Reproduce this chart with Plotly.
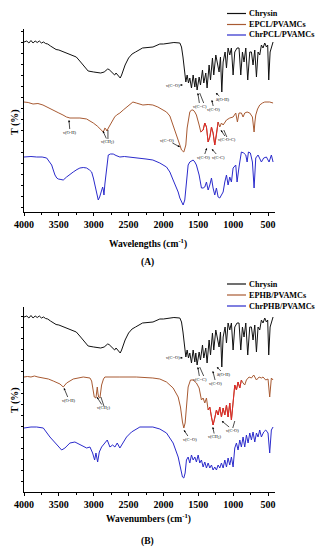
import plotly.graph_objects as go

# ---------------- data (wavenumber cm-1, offset transmittance, arbitrary units) ----------------
chrysin_wn = [4000, 3960, 3930, 3900, 3870, 3840, 3810, 3780, 3750, 3720, 3690, 3660, 3620, 3580,
              3540, 3500, 3450, 3400, 3330, 3280, 3250, 3200, 3150, 3100, 3080, 3000, 2950, 2900,
              2850, 2800, 2780, 2760, 2700, 2680, 2660, 2640, 2620, 2600, 2580, 2550, 2500, 2450,
              2400, 2300, 2150, 2052, 2000, 1908, 1850, 1765, 1741, 1720, 1708, 1679, 1660, 1641,
              1622, 1598, 1574, 1550, 1536, 1517, 1488, 1469, 1440, 1421, 1393, 1374, 1345, 1325,
              1297, 1278, 1249, 1230, 1202, 1182, 1163, 1144, 1116, 1096, 1073, 1049, 1025, 1001,
              977, 944, 916, 891, 867, 844, 819, 791, 762, 738, 715, 690, 666, 643, 619, 595, 572,
              547, 523, 505, 490, 470, 452, 428]
chrysin_t = [170, 171, 169, 171.5, 169, 171, 169.5, 171, 169, 170, 168.5, 168, 166, 164,
             162.5, 162, 160.5, 159, 157, 156, 155, 151, 147, 142, 141, 140, 139.5, 139,
             140, 143, 142.5, 141, 137, 139, 137, 135, 134, 137, 141, 147, 154, 158,
             160, 164, 165, 168, 168, 169, 169.5, 169, 165, 155, 147, 130, 137, 129,
             134, 124, 137, 125, 134, 122, 135, 127, 142, 129, 139, 124, 147, 132,
             154, 137, 157, 150, 140, 155, 120, 150, 160, 144, 164, 157, 164, 137,
             160, 164, 164, 137, 160, 150, 164, 132, 160, 160, 147, 162, 135, 160, 157, 167, 164,
             169, 165, 167, 132, 160, 165, 170]

epcl_wn = [4000, 3940, 3870, 3800, 3728, 3650, 3585, 3500, 3441, 3390, 3341, 3250, 3198, 3102,
           3050, 3006, 2950, 2911, 2880, 2863, 2850, 2840, 2825, 2811, 2790, 2744, 2700, 2672,
           2625, 2577, 2529, 2480, 2438, 2390, 2340, 2295, 2220, 2152, 2080, 2052, 1956, 1908,
           1861, 1813, 1789, 1765, 1741, 1727, 1708, 1695, 1679, 1660, 1646, 1622, 1598, 1574,
           1550, 1527, 1488, 1464, 1431, 1407, 1383, 1359, 1335, 1311, 1288, 1264, 1240, 1216,
           1192, 1168, 1144, 1120, 1096, 1049, 1001, 963, 939, 916, 882, 858, 834, 800, 762,
           724, 712, 700, 688, 676, 650, 619, 580, 547, 476, 428]
epcl_t = [110, 109.5, 108, 108.5, 107, 104, 102, 99, 97, 95, 94, 94, 94, 93,
          91, 89, 86, 83, 81, 80, 82, 84, 83, 81, 84, 90, 95, 97,
          99, 102, 105, 108, 110, 109, 108, 107, 107.5, 107, 105, 104, 100, 96,
          87, 78, 72, 67, 62, 61, 60, 63, 67, 84, 90, 100, 102, 102,
          100, 97, 87, 80, 82, 89, 85, 70, 75, 85, 79, 67, 77, 90,
          85, 89, 87, 90, 92, 94, 95, 99, 90, 99, 99, 95, 99, 100, 99,
          95, 88, 80, 90, 97, 103, 107, 109, 110, 110, 109]

chrpcl_wn = [4000, 3900, 3818, 3740, 3675, 3640, 3603, 3580, 3556, 3530, 3508, 3470, 3437, 3389,
             3340, 3294, 3240, 3198, 3150, 3102, 3060, 3030, 3005, 2982, 2960, 2935, 2915, 2896,
             2872, 2862, 2853, 2840, 2824, 2805, 2791, 2760, 2720, 2680, 2625, 2560, 2481, 2400,
             2338, 2250, 2152, 2052, 1956, 1908, 1861, 1820, 1789, 1765, 1741, 1718, 1694, 1670,
             1646, 1622, 1598, 1574, 1550, 1527, 1488, 1455, 1431, 1407, 1383, 1359, 1335, 1311,
             1288, 1264, 1240, 1216, 1192, 1168, 1144, 1120, 1096, 1073, 1049, 1025, 1001, 963,
             944, 916, 882, 848, 819, 800, 781, 753, 724, 700, 676, 643, 595, 562, 523, 485, 452, 428]
chrpcl_t = [55, 55.5, 55, 55, 54, 51, 47, 42, 37, 34, 33, 32.5, 32, 35,
            38, 40, 42.5, 44, 44.5, 44, 42, 40, 34, 27, 18, 12, 15, 19,
            25, 22, 17, 28, 40, 50, 57, 58, 58, 56.5, 55, 55.5, 55, 54.5,
            54, 53, 52, 49, 45, 40, 32, 26, 20, 14, 10, 7, 12, 30,
            47, 50, 51, 52, 50, 47, 37, 24, 24, 25, 30, 22, 27, 34,
            24, 17, 24, 15, 14, 17, 20, 30, 37, 27, 35, 30, 44, 47,
            30, 45, 60, 59, 57, 50, 60, 59, 50, 24, 54, 57, 50, 54, 55, 50, 57, 50]

ephb_wn = [4000, 3950, 3900, 3850, 3800, 3728, 3650, 3580, 3484, 3437, 3410, 3389, 3294, 3150,
           3054, 3030, 3016, 2992, 2968, 2960, 2949, 2940, 2930, 2911, 2900, 2887, 2860, 2840,
           2625, 2390, 2152, 2052, 1956, 1861, 1789, 1756, 1727, 1708, 1689, 1670, 1646, 1612,
           1574, 1527, 1488, 1455, 1431, 1407, 1383, 1359, 1335, 1311, 1288, 1264, 1240, 1216,
           1192, 1168, 1144, 1120, 1096, 1073, 1049, 1025, 1001, 977, 953, 930, 905, 882, 858,
           834, 810, 772, 738, 705, 666, 628, 595, 572, 533, 500, 476, 452, 428]
ephb_t = [110, 110.5, 110, 111, 110, 109, 108, 106, 103, 100, 102, 104, 108, 110,
          109, 106, 100, 90, 89, 95, 100, 94, 90, 89, 95, 102, 108, 110,
          110, 110, 109, 108, 105, 99, 90, 80, 65, 59, 64, 80, 100, 107,
          107, 104, 99, 87, 89, 84, 89, 77, 80, 70, 62, 69, 77, 72,
          80, 70, 79, 72, 82, 70, 84, 67, 87, 102, 97, 105, 99, 107, 104,
          102, 107, 110, 109, 112, 107, 110, 109, 110, 107, 108, 90, 109, 107]

chrphb_wn = [4000, 3900, 3818, 3723, 3628, 3556, 3460, 3413, 3341, 3270, 3174, 3102, 3054, 3016,
             2987, 2968, 2944, 2920, 2887, 2840, 2806, 2768, 2729, 2696, 2663, 2625, 2577, 2529,
             2458, 2338, 2152, 2052, 1956, 1861, 1789, 1756, 1727, 1708, 1689, 1670, 1646, 1622,
             1598, 1574, 1550, 1527, 1502, 1479, 1455, 1431, 1407, 1383, 1359, 1335, 1311, 1288,
             1264, 1240, 1216, 1192, 1168, 1144, 1120, 1096, 1073, 1049, 1025, 1001, 977, 953,
             930, 905, 882, 858, 834, 810, 786, 762, 738, 715, 690, 666, 643, 619, 595, 562,
             533, 500, 476, 452, 428]
chrphb_t = [59, 60, 60, 59, 50, 44, 37, 39, 44, 45, 42, 39, 40, 34,
            27, 34, 25, 35, 40, 44, 47, 40, 42, 40, 44, 39, 44, 50,
            55, 60, 60, 58, 54, 44, 30, 19, 10, 9, 14, 27, 30, 24,
            32, 27, 30, 25, 32, 24, 27, 20, 25, 19, 24, 19, 22, 17,
            20, 17, 22, 19, 24, 19, 27, 20, 29, 22, 30, 20, 39, 44,
            37, 47, 40, 50, 40, 52, 44, 54, 47, 55, 45, 54, 50, 57, 50, 55,
            57, 54, 34, 57, 60]

x_ticks = [4000, 3500, 3000, 2500, 2000, 1500, 1000, 500]
legend_a = ["Chrysin", "EPCL/PVAMCs", "ChrPCL/PVAMCs"]
legend_b = ["Chrysin", "EPHB/PVAMCs", "ChrPHB/PVAMCs"]

BLACK = "#111111"
BROWN = "#A85A32"
RED = "#E02828"
BLUE = "#2B2BCC"
SERIF = "Liberation Serif"

# page layout: the page body has an 8px margin, so the figure is offset by it
OFF = 8
W, H = 324 - OFF, 550 - OFF
L = 24 - OFF
PW = 251
R = W - L - PW
WN_PER_PX = 3600 / PW


def xp(px):
    return (px - 24) / PW


def yp(py):
    return 1 - (py - OFF) / H


fig = go.Figure()


def add_line(wn, t, color, xa, ya, lo=None, hi=None):
    if lo is not None:
        pairs = [(a, b) for a, b in zip(wn, t) if lo <= a <= hi]
        wn = [p[0] for p in pairs]
        t = [p[1] for p in pairs]
    fig.add_trace(go.Scatter(x=wn, y=t, mode="lines", line=dict(color=color, width=1),
                             xaxis=xa, yaxis=ya, showlegend=False, hoverinfo="skip"))


# panel A
add_line(chrysin_wn, chrysin_t, BLACK, "x", "y")
add_line(epcl_wn, epcl_t, BROWN, "x", "y")
add_line(epcl_wn, epcl_t, RED, "x", "y", 1215, 1480)
add_line(chrpcl_wn, chrpcl_t, BLUE, "x", "y")
# panel B
add_line(chrysin_wn, chrysin_t, BLACK, "x2", "y2")
add_line(ephb_wn, ephb_t, BROWN, "x2", "y2")
add_line(ephb_wn, ephb_t, RED, "x2", "y2", 880, 1380)
add_line(chrphb_wn, chrphb_t, BLUE, "x2", "y2")

xcommon = dict(range=[4000, 400], tickmode="array", tickvals=x_ticks,
               ticktext=[str(v) for v in x_ticks], ticks="outside", ticklen=3, tickwidth=1,
               tickcolor="black", showline=True, linecolor="black", linewidth=1,
               showgrid=False, zeroline=False, automargin=False,
               minor=dict(ticks="outside", ticklen=2, tickvals=[3750, 3250, 2750, 2250, 1750, 1250, 750],
                          tickcolor="black"),
               tickfont=dict(family=SERIF, size=10, color="black", weight="bold"))
ycommon = dict(showticklabels=False, ticks="outside", ticklen=2, tickwidth=1, tickcolor="black",
               showline=True, linecolor="black", linewidth=1, showgrid=False, zeroline=False,
               automargin=False, tickmode="linear", dtick=11)

fig.update_layout(
    template="none",
    width=W, height=H, margin=dict(l=L, r=R, t=0, b=0, pad=0, autoexpand=False),
    paper_bgcolor="white", plot_bgcolor="white", showlegend=False,
    xaxis=dict(domain=[0, 1], anchor="y", **xcommon),
    yaxis=dict(domain=[yp(212), yp(29)], anchor="x", range=[0, 183], tick0=4.3, **ycommon),
    xaxis2=dict(domain=[0, 1], anchor="y2", **xcommon),
    yaxis2=dict(domain=[yp(492), yp(307)], anchor="x2", range=[-5, 180], tick0=5.3, **ycommon),
)

anns = []
shapes = []

# legends
for labels, rows in ((legend_a, [13.5, 24.5, 35]), (legend_b, [284, 295, 306])):
    for lab, py, col in zip(labels, rows, [BLACK, BROWN, BLUE]):
        shapes.append(dict(type="line", xref="paper", yref="paper", x0=xp(227), x1=xp(246),
                           y0=yp(py), y1=yp(py), line=dict(color=col, width=1.2)))
        anns.append(dict(xref="paper", yref="paper", x=xp(248), y=yp(py), text=lab,
                         showarrow=False, xanchor="left", yanchor="middle", borderpad=0,
                         font=dict(family=SERIF, size=8.2, color="black", weight="bold")))

# axis titles and panel labels
titles = [("Wavelengths (cm<sup>-1</sup>)", 148, 243), ("(A)", 147, 262),
          ("Wavenumbers (cm<sup>-1</sup>)", 148, 518), ("(B)", 147, 541)]
for txt, px, py in titles:
    anns.append(dict(xref="paper", yref="paper", x=xp(px), y=yp(py), text=txt, showarrow=False,
                     xanchor="center", yanchor="middle", borderpad=0,
                     font=dict(family=SERIF, size=9.5, color="black", weight="bold")))
for py in (122, 400):
    anns.append(dict(xref="paper", yref="paper", x=xp(15), y=yp(py), text="T (%)", showarrow=False,
                     textangle=-90, xanchor="center", yanchor="middle", borderpad=0,
                     font=dict(family=SERIF, size=10, color="black", weight="bold")))

# peak assignments: (text, wn, t, ax, ay, x-axis, y-axis); extra arrows share a label
peaks = [
    ("ν(C=O)", 1722, 127, -10, 0, "x", "y"),
    ("ν(C=C)", 1507, 119, 2, 13, "x", "y"),
    ("ν(C-O)", 1306, 112, 2, 9, "x", "y"),
    ("δ(O-H)", 1249, 119, 7, 6, "x", "y"),
    ("ν(O-H)", 3355, 92, 1, 12, "x", "y"),
    ("ν(CH<sub>2</sub>)", 2868, 81, 5, 11, "x", "y"),
    ("ν(C=O)", 1764, 65, -13, -7, "x", "y"),
    ("ν(C-O)", 1378, 64, -3, 9, "x", "y"),
    ("ν(C-C)", 1306, 63, 7, 8, "x", "y"),
    ("ν(C-O-C)", 1177, 82, 6, 9, "x", "y"),
    ("ν(C=O)", 1722, 129, -10, -1, "x2", "y2"),
    ("ν(C=C)", 1507, 120, 2, 12, "x2", "y2"),
    ("ν(C-O)", 1292, 116, 3, 12, "x2", "y2"),
    ("δ(O-H)", 1234, 120, 7, 7, "x2", "y2"),
    ("ν(O-H)", 3427, 99, 5, 12, "x2", "y2"),
    ("ν(CH<sub>2</sub>)", 2954, 90, 7, 11, "x2", "y2"),
    ("ν(C=O)", 1707, 57, 6, 9, "x2", "y2"),
    ("ν(CH<sub>3</sub>)", 1292, 60, 2, 10, "x2", "y2"),
    ("ν(C-O)", 1163, 66, 11, 9, "x2", "y2"),
]
extra_arrows = [
    (1480, 119, 4, 10, "x", "y"),
    (2796, 82, 0, 9, "x", "y"),
    (1134, 82, 3, 7, "x", "y"),
    (1480, 120, 4, 9, "x2", "y2"),
    (2897, 90, 3, 9, "x2", "y2"),
    (977, 66, -2, 7, "x2", "y2"),
]
for txt, wn, t, ax, ay, xa, ya in peaks:
    anns.append(dict(xref=xa, yref=ya, x=wn, y=t, text=txt, showarrow=True, ax=ax, ay=ay,
                     axref="pixel", ayref="pixel", arrowhead=2, arrowsize=0.6, arrowwidth=0.7,
                     arrowcolor="black", standoff=0, startstandoff=0, borderpad=0,
                     font=dict(family=SERIF, size=4.5, color="black")))
for wn, t, dx, dy, xa, ya in extra_arrows:
    shapes.append(dict(type="line", xref=xa, yref=ya, x0=wn, y0=t,
                       x1=wn - dx * WN_PER_PX, y1=t - dy, line=dict(color="black", width=0.7)))

fig.update_layout(annotations=anns, shapes=shapes)
fig.write_html("out.html")
